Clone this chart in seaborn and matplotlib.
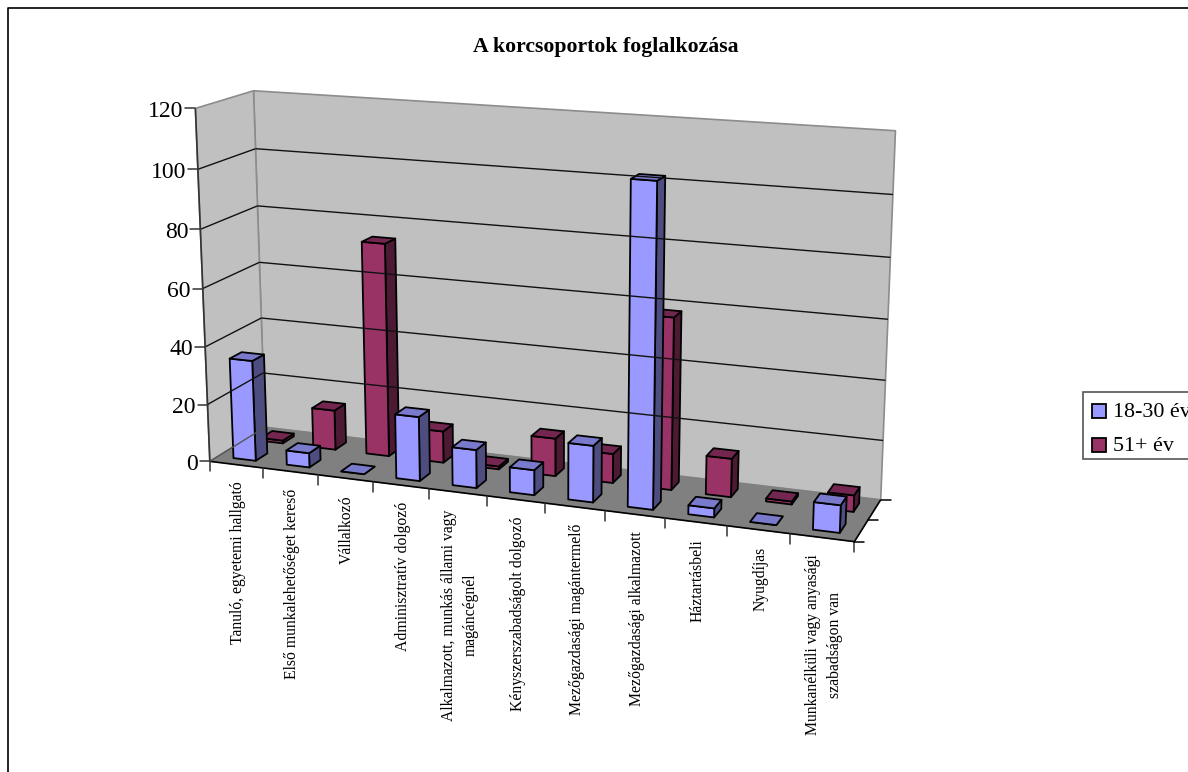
import numpy as np
import matplotlib
matplotlib.use("Agg")
import matplotlib.pyplot as plt
from matplotlib.patches import Polygon, Rectangle
import seaborn as sns

# Data
categories = [
    "Tanuló, egyetemi hallgató",
    "Első munkalehetőséget kereső",
    "Vállalkozó",
    "Adminisztratív dolgozó",
    "Alkalmazott, munkás állami vagy\nmagáncégnél",
    "Kényszerszabadságolt dolgozó",
    "Mezőgazdasági magántermelő",
    "Mezőgazdasági alkalmazott",
    "Háztartásbeli",
    "Nyugdíjas",
    "Munkanélküli vagy anyasági\nszabadságon van",
]
young = [35, 5, 0, 22, 13, 8.5, 19, 106, 3, 0, 9]
old = [1, 14, 74, 11, 1, 13, 10, 58, 13, 1, 5.5]
series_names = ["18-30 év", "51+ év"]
y_ticks = [0, 20, 40, 60, 80, 100, 120]

sns.set_theme(style="white")
plt.rcParams["font.family"] = ["Liberation Serif", "DejaVu Serif"]

# -----------------------------------
# Perspective of the box: world (category, depth, value) -> picture pixels
world = np.array([
    (0, 0, 0), (0, 0, 120), (0, 1, 0), (0, 1, 120),
    (11, 1, 0), (11, 1, 120), (11, 0, 0),
    (1, 0, 0), (4, 0, 0), (9, 0, 0), (10, 0, 0),
    (0, 1, 60), (11, 1, 60), (0, 0, 60),
], dtype=float)
pixels = np.array([
    (210, 461), (196, 109), (266, 428), (253, 90),
    (881, 499), (896, 131), (854, 542),
    (262, 467.5), (429, 488.5), (728, 526), (790, 534),
    (259, 263), (887, 319), (203, 288),
], dtype=float)

rows = []
for (x, y, z), (u, v) in zip(world, pixels):
    rows.append([x, y, z, 1, 0, 0, 0, 0, -u * x, -u * y, -u * z, -u])
    rows.append([0, 0, 0, 0, x, y, z, 1, -v * x, -v * y, -v * z, -v])
camera = np.linalg.svd(np.array(rows))[2][-1].reshape(3, 4)


def proj(x, y, z):
    u, v, w = camera @ np.array([x, y, z, 1.0])
    return u / w, v / w


fig = plt.figure(figsize=(11.88, 7.72), dpi=100)
ax = fig.add_axes([0, 0, 1, 1])
ax.set_xlim(0, 1188)
ax.set_ylim(772, 0)
ax.axis("off")


def face(points, color, edge="black", lw=1.3):
    ax.add_patch(Polygon([proj(*p) for p in points], closed=True, facecolor=color,
                         edgecolor=edge, linewidth=lw, joinstyle="round"))


def line(a, b, color="black", lw=1.0):
    pa, pb = proj(*a), proj(*b)
    ax.plot([pa[0], pb[0]], [pa[1], pb[1]], color=color, lw=lw, solid_capstyle="butt")


# -----------------------------------
# Chart frame (only left and top fall inside the picture)
ax.plot([8, 8, 1188], [772, 8, 8], color="black", lw=1.2)

# Walls and floor
top = y_ticks[-1]
n = len(categories)
face([(0, 1, 0), (n, 1, 0), (n, 1, top), (0, 1, top)], "#C0C0C0", "#8C8C8C", 1.2)
face([(0, 0, 0), (0, 1, 0), (0, 1, top), (0, 0, top)], "#C0C0C0", "#8C8C8C", 1.2)
face([(0, 0, 0), (n, 0, 0), (n, 1, 0), (0, 1, 0)], "#808080", "#808080", 0.8)

for t in y_ticks[1:-1]:
    line((0, 0, t), (0, 1, t), "#111111")
    line((0, 1, t), (n, 1, t), "#111111")

# Axis lines
line((0, 0, 0), (0, 0, top), "#333333", 1.2)
line((0, 0, 0), (n, 0, 0), "black", 1.2)
line((n, 0, 0), (n, 1, 0), "black", 1.2)
line((0, 0, 0), (0, 1, 0), "#555555", 1.0)

# -----------------------------------
# Bars, back row first
bar_left, bar_right = 0.29, 0.71
palette = {
    "18-30 év": ("#9999FF", "#4D4D80", "#7A7ACC"),
    "51+ év": ("#993366", "#4D1A33", "#732650"),
}
rows_3d = [("51+ év", old, 0.645, 0.855), ("18-30 év", young, 0.145, 0.355)]

for name, values, y0, y1 in rows_3d:
    front, side, cap = palette[name]
    for i, val in enumerate(values):
        x0, x1 = i + bar_left, i + bar_right
        face([(x1, y0, 0), (x1, y1, 0), (x1, y1, val), (x1, y0, val)], side)
        face([(x0, y0, 0), (x1, y0, 0), (x1, y0, val), (x0, y0, val)], front)
        face([(x0, y0, val), (x1, y0, val), (x1, y1, val), (x0, y1, val)], cap)

# -----------------------------------
# Ticks and labels
for t in y_ticks:
    u, v = proj(0, 0, t)
    ax.plot([u - 10, u], [v, v], color="#333333", lw=1.1)
    ax.text(u - 12, v + 3, str(t), ha="right", va="center", fontsize=17, color="black")

for i in range(n + 1):
    u, v = proj(i, 0, 0)
    ax.plot([u, u], [v, v + 10], color="#333333", lw=1.1)

for d in [0, 0.5, 1]:
    u, v = proj(n, d, 0)
    ax.plot([u, u + 10], [v, v], color="black", lw=1.1)

for i, label in enumerate(categories):
    u, v = proj(i + 0.5, 0, 0)
    ax.text(u + 2, v + 17, label, rotation=90, ha="center", va="top", ma="center",
            fontsize=11.3, color="black", linespacing=1.45)

ax.text(605.5, 47, "A korcsoportok foglalkozása", ha="center", va="center",
        fontsize=15.7, fontweight="bold", color="black")

# -----------------------------------
# Legend box, runs off the right edge as in the original
ax.add_patch(Rectangle((1083, 392), 130, 66.5, facecolor="white", edgecolor="#555555", lw=1.2))
for name, y_mid in zip(series_names, [410.5, 444.5]):
    ax.add_patch(Rectangle((1092, y_mid - 7), 14, 14, facecolor=palette[name][0],
                           edgecolor="black", lw=1.3))
    ax.text(1113, y_mid + 2, name, ha="left", va="center", fontsize=15.8, color="black", clip_on=True)

fig.savefig("out.png", dpi=100, facecolor="white")
